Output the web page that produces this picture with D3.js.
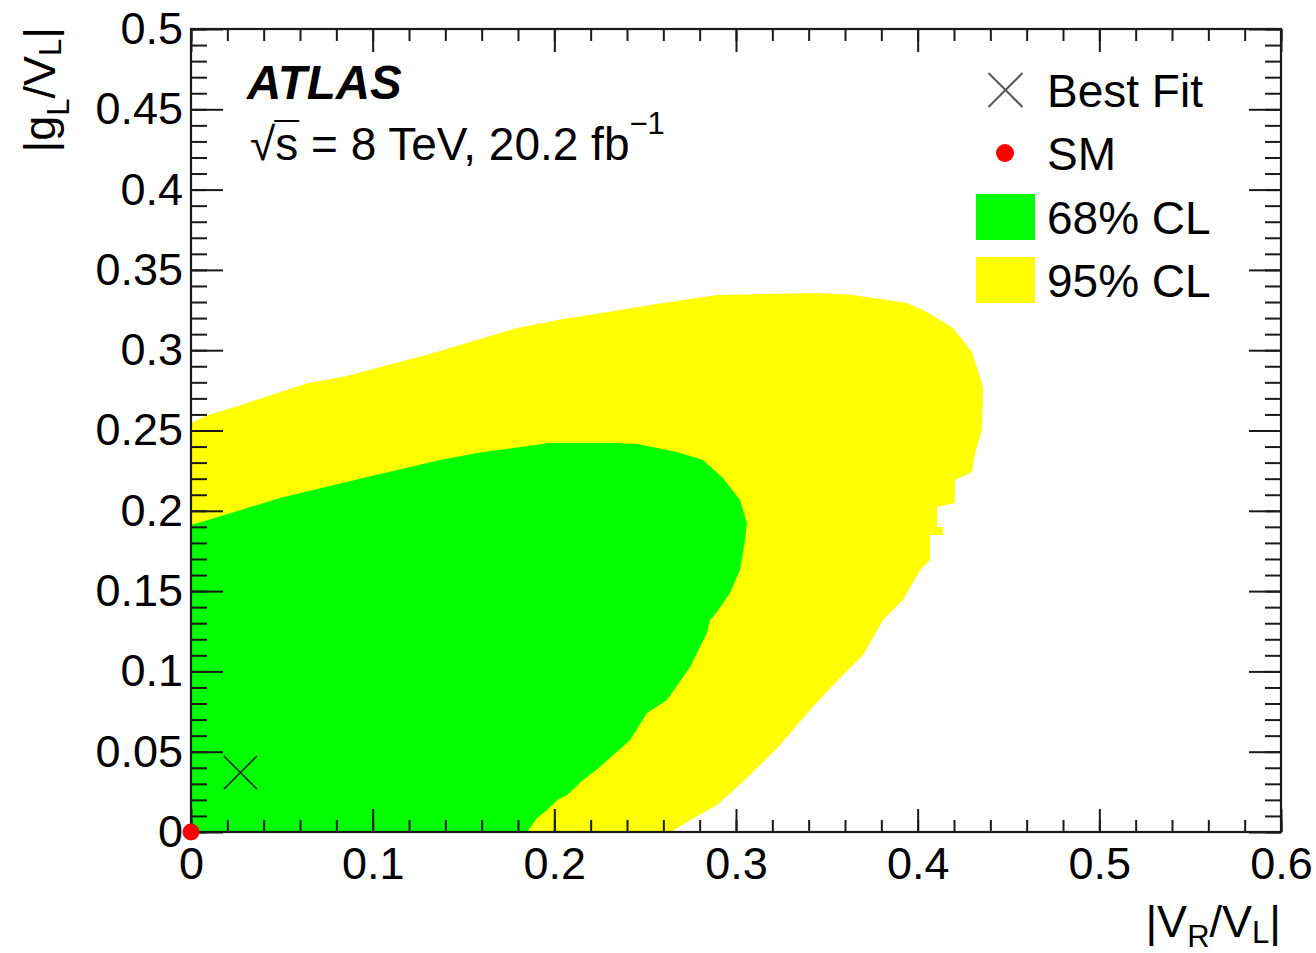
<!DOCTYPE html>
<html>
<head>
<meta charset="utf-8">
<script src="https://cdn.jsdelivr.net/npm/d3@7"></script>
<style>
  html, body { margin: 0; padding: 0; background: #fff; }
  svg { display: block; }
  text { font-family: "Liberation Sans", Arial, Helvetica, sans-serif; fill: #000; }
</style>
</head>
<body>
<svg id="chart" width="1316" height="953"></svg>
<script>
// Likelihood contours in the (|V_R/V_L|, |g_L/V_L|) plane
const contour95 = [
  [0, 0], [0, 0.2547], [0.0094, 0.2597], [0.0242, 0.2646], [0.0644, 0.2796],
  [0.0848, 0.2836], [0.1354, 0.2989], [0.1794, 0.3138], [0.2048, 0.3194],
  [0.2295, 0.3238], [0.2598, 0.3294], [0.2895, 0.3344], [0.3462, 0.3356],
  [0.3644, 0.3344], [0.3941, 0.3294], [0.4051, 0.3238], [0.4194, 0.3138],
  [0.4299, 0.2989], [0.4360, 0.2771], [0.4354, 0.2503], [0.4316, 0.2360],
  [0.4299, 0.2242], [0.4205, 0.2192], [0.4205, 0.2049], [0.4106, 0.2024],
  [0.4106, 0.1899], [0.4139, 0.1899], [0.4139, 0.1849], [0.4068, 0.1849],
  [0.4068, 0.1694], [0.4013, 0.1631], [0.3919, 0.1445], [0.3809, 0.1320],
  [0.3699, 0.1102], [0.3561, 0.0946], [0.3407, 0.0760], [0.3242, 0.0542],
  [0.3060, 0.0336], [0.2895, 0.0168], [0.2730, 0.0062], [0.2642, 0]
];
const contour68 = [
  [0, 0], [0, 0.1912], [0.0094, 0.1943], [0.0490, 0.2080], [0.0947, 0.2204],
  [0.1371, 0.2316], [0.1607, 0.2366], [0.1976, 0.2422], [0.2323, 0.2422],
  [0.2455, 0.2416], [0.2675, 0.2366], [0.2818, 0.2316], [0.2928, 0.2204],
  [0.3022, 0.2067], [0.3060, 0.1924], [0.3050, 0.1818], [0.3022, 0.1631],
  [0.2967, 0.1488], [0.2895, 0.1370], [0.2857, 0.1320], [0.2840, 0.1239],
  [0.2747, 0.1027], [0.2620, 0.0822], [0.2510, 0.0741], [0.2417, 0.0573],
  [0.2251, 0.0405], [0.2158, 0.0324], [0.2070, 0.0230], [0.2015, 0.0199],
  [0.1960, 0.0137], [0.1905, 0.0087], [0.1850, 0]
];
const bestFit = [0.0272, 0.037];
const smPoint = [0, 0];

const xTickValues = [0, 0.1, 0.2, 0.3, 0.4, 0.5, 0.6];
const xTickLabels = ["0", "0.1", "0.2", "0.3", "0.4", "0.5", "0.6"];
const yTickValues = [0, 0.05, 0.1, 0.15, 0.2, 0.25, 0.3, 0.35, 0.4, 0.45, 0.5];
const yTickLabels = ["0", "0.05", "0.1", "0.15", "0.2", "0.25", "0.3", "0.35", "0.4", "0.45", "0.5"];

const legendLabels = ["Best Fit", "SM", "68% CL", "95% CL"];
const legendKinds = ["cross", "dot", "box68", "box95"];

const COLOR68 = "#00ff00";
const COLOR95 = "#ffff00";
const FONT = 45;

const svg = d3.select("#chart");
const plot = { left: 191, right: 1281, top: 29, bottom: 832 };

const x = d3.scaleLinear().domain([0, 0.6]).range([plot.left, plot.right]);
const y = d3.scaleLinear().domain([0, 0.5]).range([plot.bottom, plot.top]);

svg.append("rect").attr("width", 1316).attr("height", 953).attr("fill", "#fff");

// Confidence regions
const area = d3.line().x(d => x(d[0])).y(d => y(d[1]));
svg.append("path").attr("d", area(contour95) + "Z").attr("fill", COLOR95);
svg.append("path").attr("d", area(contour68) + "Z").attr("fill", COLOR68);

// Axes: ticks drawn inward on all four sides
const xMinor = d3.range(0, 0.6001, 0.02);
const yMinor = d3.range(0, 0.5001, 0.01);

function styleAxis(g) {
  g.select(".domain").remove();
  g.selectAll(".tick line").attr("stroke", "#1a1a1a").attr("stroke-width", 2);
  g.selectAll("text").style("font-family", "'Liberation Sans', Arial, sans-serif")
    .style("font-size", FONT + "px").attr("fill", "#000");
}

// bottom
svg.append("g").attr("transform", `translate(0,${plot.bottom})`)
  .call(d3.axisBottom(x).tickValues(xMinor).tickSize(-12).tickFormat(""))
  .call(styleAxis);
svg.append("g").attr("transform", `translate(0,${plot.bottom})`)
  .call(d3.axisBottom(x).tickValues(xTickValues).tickSize(-23).tickPadding(15)
    .tickFormat((d, i) => xTickLabels[i]))
  .call(styleAxis);
// top
svg.append("g").attr("transform", `translate(0,${plot.top})`)
  .call(d3.axisTop(x).tickValues(xMinor).tickSize(-12).tickFormat(""))
  .call(styleAxis);
svg.append("g").attr("transform", `translate(0,${plot.top})`)
  .call(d3.axisTop(x).tickValues(xTickValues).tickSize(-23).tickFormat(""))
  .call(styleAxis);
// left
svg.append("g").attr("transform", `translate(${plot.left},0)`)
  .call(d3.axisLeft(y).tickValues(yMinor).tickSize(-16).tickFormat(""))
  .call(styleAxis);
svg.append("g").attr("transform", `translate(${plot.left},0)`)
  .call(d3.axisLeft(y).tickValues(yTickValues).tickSize(-32).tickPadding(8)
    .tickFormat((d, i) => yTickLabels[i]))
  .call(styleAxis);
// right
svg.append("g").attr("transform", `translate(${plot.right},0)`)
  .call(d3.axisRight(y).tickValues(yMinor).tickSize(-16).tickFormat(""))
  .call(styleAxis);
svg.append("g").attr("transform", `translate(${plot.right},0)`)
  .call(d3.axisRight(y).tickValues(yTickValues).tickSize(-32).tickFormat(""))
  .call(styleAxis);

// frame
svg.append("rect")
  .attr("x", plot.left).attr("y", plot.top)
  .attr("width", plot.right - plot.left).attr("height", plot.bottom - plot.top)
  .attr("fill", "none").attr("stroke", "#1a1a1a").attr("stroke-width", 2.2);

// markers
function cross(g, cx, cy, r, color, w) {
  g.append("path")
    .attr("d", `M${cx - r},${cy - r}L${cx + r},${cy + r}M${cx - r},${cy + r}L${cx + r},${cy - r}`)
    .attr("stroke", color).attr("stroke-width", w).attr("fill", "none");
}
cross(svg, x(bestFit[0]), y(bestFit[1]), 16.5, "#1f2f1f", 1.6);
svg.append("circle").attr("cx", x(smPoint[0])).attr("cy", y(smPoint[1]))
  .attr("r", 8.5).attr("fill", "#ff0000");

// axis titles
const xt = svg.append("text").attr("x", plot.right).attr("y", 937)
  .attr("text-anchor", "end").style("font-size", FONT + "px");
xt.append("tspan").text("|V");
xt.append("tspan").attr("dy", 10).style("font-size", "31px").text("R");
xt.append("tspan").attr("dy", -10).text("/V");
xt.append("tspan").attr("dy", 6).style("font-size", "31px").text("L");
xt.append("tspan").attr("dy", -6).text("|");

const yt = svg.append("text").attr("transform", `translate(55,${plot.top - 2}) rotate(-90)`)
  .attr("text-anchor", "end").style("font-size", FONT + "px");
yt.append("tspan").text("|g");
yt.append("tspan").attr("dy", 14).style("font-size", "31px").text("L");
yt.append("tspan").attr("dy", -14).text("/V");
yt.append("tspan").attr("dy", 6).style("font-size", "31px").text("L");
yt.append("tspan").attr("dy", -6).text("|");

// experiment label
svg.append("text").attr("x", 247).attr("y", 99)
  .style("font-size", "47.5px").style("font-weight", "bold").style("font-style", "italic")
  .text("ATLAS");

const lumiY = 160;
const lumi = svg.append("text").attr("x", 250).attr("y", lumiY).style("font-size", "46px");
lumi.append("tspan").text("\u221A");
lumi.append("tspan").text("s = 8 TeV, 20.2 fb");
lumi.append("tspan").attr("dy", -26).style("font-size", "31px").text("\u22121");
// overbar of the square root
{
  const node = lumi.node();
  const r0 = node.getEndPositionOfChar(0);
  const s1 = node.getEndPositionOfChar(1);
  svg.append("line")
    .attr("x1", r0.x - 1).attr("x2", s1.x + 1)
    .attr("y1", lumiY - 39).attr("y2", lumiY - 39)
    .attr("stroke", "#000").attr("stroke-width", 2);
}

// legend
const legendX = 1047, rowY = [90, 153, 217, 280];
const lg = svg.append("g");
legendLabels.forEach((lab, i) => {
  const cy = rowY[i];
  const kind = legendKinds[i];
  if (kind === "cross") cross(lg, 1005.5, cy, 17, "#555", 2);
  else if (kind === "dot") lg.append("circle").attr("cx", 1005).attr("cy", cy).attr("r", 9).attr("fill", "#ff0000");
  else lg.append("rect").attr("x", 976).attr("y", cy - 23).attr("width", 59).attr("height", 46)
    .attr("fill", kind === "box68" ? COLOR68 : COLOR95);
  lg.append("text").attr("x", legendX).attr("y", cy + 16.5).style("font-size", "46px").text(lab);
});
</script>
</body>
</html>
